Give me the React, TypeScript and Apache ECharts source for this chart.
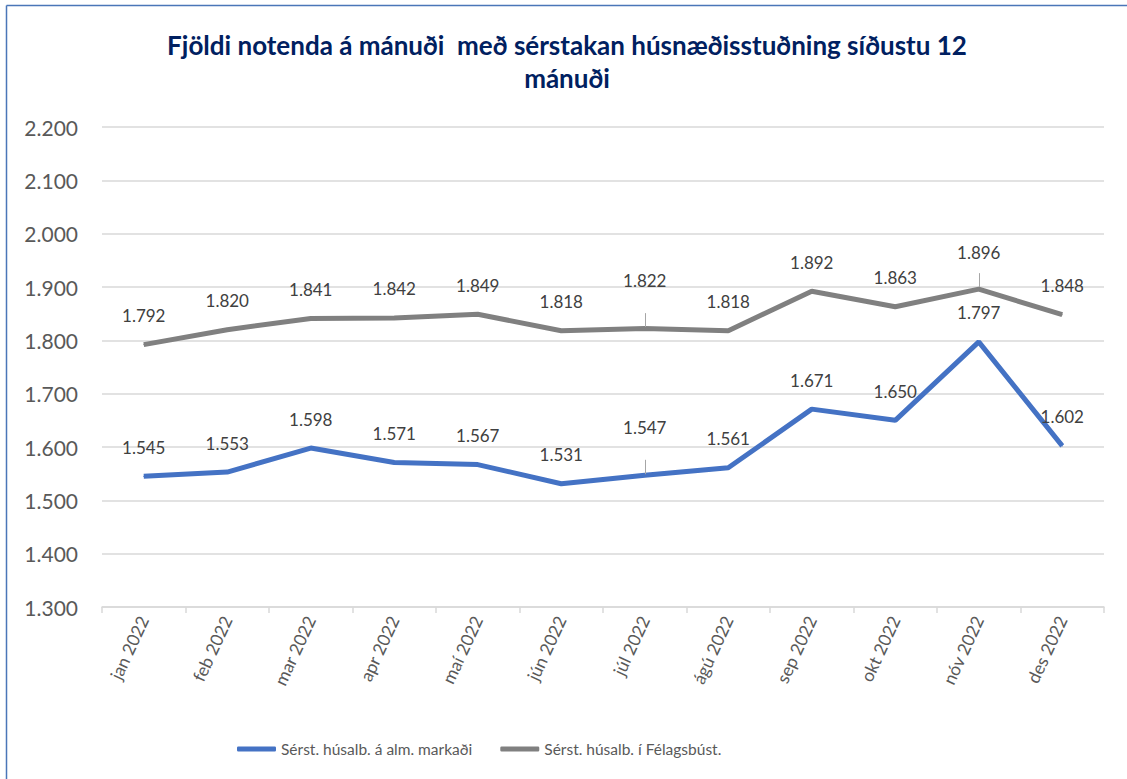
import React, { useEffect, useRef } from "react";
import * as echarts from "echarts";

const categories = ["jan 2022", "feb 2022", "mar 2022", "apr 2022", "maí 2022", "jún 2022", "júl 2022", "ágú 2022", "sep 2022", "okt 2022", "nóv 2022", "des 2022"];
const almennurMarkadur = [1545, 1553, 1598, 1571, 1567, 1531, 1547, 1561, 1671, 1650, 1797, 1602];
const felagsbustadir = [1792, 1820, 1841, 1842, 1849, 1818, 1822, 1818, 1892, 1863, 1896, 1848];
const seriesNames = ["Sérst. húsalb. á alm. markaði", "Sérst. húsalb. í Félagsbúst."];
const titleText = "Fjöldi notenda á mánuði  með sérstakan húsnæðisstuðning síðustu 12\nmánuði";

const fmt = (v: number) => {
  const s = String(Math.round(v));
  return s.replace(/\B(?=(\d{3})+(?!\d))/g, ".");
};

const FONT = "Lato";

export default function App() {
  const ref = useRef<HTMLDivElement>(null);
  useEffect(() => {
    if (!ref.current) return;
    const chart = echarts.init(ref.current, null, { renderer: "svg" });
    const labelBase = { show: true, position: "top", distance: 20, color: "#404040", fontSize: 17, fontFamily: FONT, formatter: (p: any) => fmt(p.value) };
    const mkData = (vals: number[], extra: Record<number, number>) =>
      vals.map((v, i) => (extra[i] !== undefined ? { value: v, label: { offset: [0, extra[i]] } } : v));
    const leader = (x: number, a: number, b: number) => [{ coord: [x, a] }, { coord: [x, b] }];
    chart.setOption({
      animation: false,
      graphic: [
        { type: "line", shape: { x1: 6.5, y1: 5.5, x2: 1127, y2: 5.5 }, style: { stroke: "#4a76b8", lineWidth: 1.5 }, silent: true },
        { type: "line", shape: { x1: 6.5, y1: 5.5, x2: 6.5, y2: 779 }, style: { stroke: "#4a76b8", lineWidth: 1.5 }, silent: true },
        { type: "text", x: 567, y: 61.5, style: { text: titleText, align: "center", verticalAlign: "middle", fontSize: 26, fontWeight: "bold", fontFamily: FONT, fill: "#002060", lineHeight: 33 } },
      ],
      grid: { left: 102, right: 23, top: 127, bottom: 172 },
      legend: {
        left: 232, top: 736, icon: "roundRect", itemWidth: 39, itemHeight: 5, itemGap: 28,
        textStyle: { color: "#595959", fontSize: 15.5, fontFamily: FONT },
        data: seriesNames,
      },
      xAxis: {
        type: "category", data: categories, boundaryGap: true,
        axisLine: { lineStyle: { color: "#d9d9d9", width: 1.5 } },
        axisTick: { show: true, length: 6, lineStyle: { color: "#d9d9d9", width: 1.5 } },
        axisLabel: { rotate: 65, color: "#595959", fontSize: 17.5, fontFamily: FONT, margin: 10 },
      },
      yAxis: {
        type: "value", min: 1300, max: 2200, interval: 100,
        axisLabel: { color: "#595959", fontSize: 21, fontFamily: FONT, margin: 24, formatter: (v: number) => fmt(v) },
        splitLine: { lineStyle: { color: "#d9d9d9", width: 1.5 } },
        axisLine: { show: false }, axisTick: { show: false },
      },
      series: [
        {
          name: seriesNames[0], type: "line", data: mkData(almennurMarkadur, { 6: -19 }),
          symbol: "circle", symbolSize: 1, lineStyle: { color: "#4472C4", width: 5 }, itemStyle: { color: "#4472C4" },
          label: labelBase, emphasis: { disabled: true },
          markLine: { silent: true, symbol: ["none", "none"], label: { show: false }, lineStyle: { color: "#a6a6a6", width: 1, type: "solid" }, data: [leader(6, 1549, 1576)] },
        },
        {
          name: seriesNames[1], type: "line", data: mkData(felagsbustadir, { 6: -19, 10: -8 }),
          symbol: "circle", symbolSize: 1, lineStyle: { color: "#808080", width: 5 }, itemStyle: { color: "#808080" },
          label: labelBase, emphasis: { disabled: true },
          markLine: { silent: true, symbol: ["none", "none"], label: { show: false }, lineStyle: { color: "#a6a6a6", width: 1, type: "solid" }, data: [leader(6, 1825, 1851), leader(10, 1900, 1926)] },
        },
      ],
    });
    return () => chart.dispose();
  }, []);
  return <div ref={ref} style={{ position: "absolute", left: 0, top: 0, width: 1127, height: 779, background: "#fff" }} />;
}
